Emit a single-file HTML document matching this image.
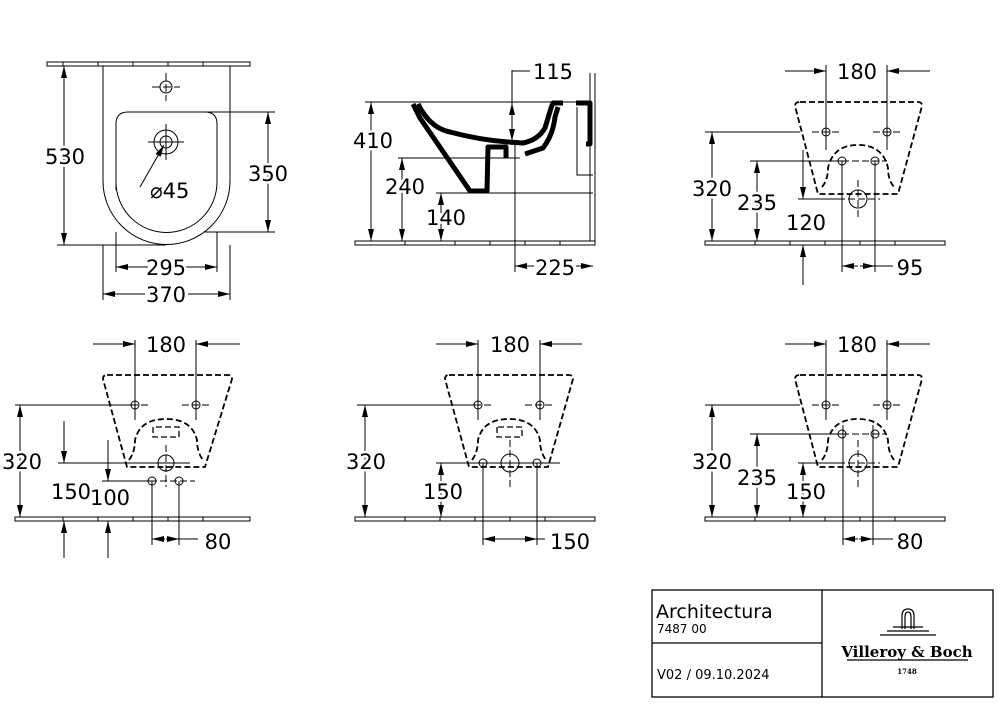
<!DOCTYPE html>
<html><head><meta charset="utf-8"><style>
html,body{margin:0;padding:0;background:#fff;}
svg{display:block;}
text{font-family:"DejaVu Sans","Liberation Sans",sans-serif;fill:#000;}
.t{font-size:21px;text-anchor:middle;stroke:#fff;stroke-width:5px;paint-order:stroke;stroke-linejoin:round;}
</style></head><body>
<svg width="1000" height="706" viewBox="0 0 1000 706" xmlns="http://www.w3.org/2000/svg">
<defs>
<marker id="a" viewBox="0 0 12 6" refX="12" refY="3" markerWidth="12" markerHeight="6" markerUnits="userSpaceOnUse" orient="auto-start-reverse"><path d="M0,0 L12,3 L0,6z" fill="#000"/></marker>
</defs>
<g stroke="#000" stroke-width="1" fill="none">
<!-- ===== VIEW 1 ===== -->
<rect x="47" y="62" width="203" height="4" fill="#fff"/>
<path d="M103,66 V181 A63.5,63.5 0 0 0 230,181 V66"/>
<path d="M116,190 V124 Q116,112 128,112 H205 Q217,112 217,124 V182 A50.5,50.5 0 0 1 116,182"/>
<circle cx="166" cy="87" r="6"/><path d="M152,87 H180 M166,73 V101" stroke-dasharray="8,3"/>
<circle cx="166" cy="142" r="12"/><circle cx="166" cy="142" r="6"/>
<path d="M148,142 H184 M166,124 V160"/>
<path d="M140,187 L164,145" marker-end="url(#a)"/>
<path d="M57,245 H166 M205,112 H275 M205,232 H275 M116,232 V272 M217,232 V272 M103,245 V300 M230,245 V300"/>
<path d="M64,66 V245" marker-start="url(#a)" marker-end="url(#a)"/>
<path d="M268,112 V232" marker-start="url(#a)" marker-end="url(#a)"/>
<path d="M116,267 H148 M184,267 H217" />
<path d="M116,267 h1" marker-start="url(#a)"/><path d="M217,267 h-1" marker-start="url(#a)"/>
<path d="M103,294 H145 M188,294 H230"/>
<path d="M103,294 h1" marker-start="url(#a)"/><path d="M230,294 h-1" marker-start="url(#a)"/>

<!-- ===== VIEW 2 ===== -->
<rect x="355" y="241" width="240" height="4" fill="#fff"/>
<path d="M590,73 V241 M595,73 V245 M365,102 H590"/>
<g stroke-width="5" stroke-linejoin="round">
<path d="M413,104 L420,118 L470,191 L487,191 L488,147 L506,147 L506,158"/>
<path d="M418,104 Q430,128 450,132 Q480,140 508,142 L523,143 Q538,140 545,128 L551,108 L553,103 L563,103"/>
<path d="M525,154 L543,148 Q553,135 555,117 L558,107"/>
<path d="M576,103 H590 L590,144 L586,144"/>
</g>
<path d="M577,107 V175 H593"/>
<path d="M398,158 H520 M436,193 H593 M515,145 V272 M512,70 V145 M512,71 H530"/>
<path d="M371,102 V241" marker-start="url(#a)" marker-end="url(#a)"/>
<path d="M402,158 V241" marker-start="url(#a)" marker-end="url(#a)"/>
<path d="M441,193 V213" marker-start="url(#a)"/><path d="M441,223 V241" marker-end="url(#a)"/>
<path d="M512,122 V103" marker-end="url(#a)"/><path d="M512,125 V141" marker-end="url(#a)"/>
<path d="M515,266 H534" marker-start="url(#a)"/><path d="M576,266 H593" marker-end="url(#a)"/>

<!-- ===== VIEW 3 ===== -->
<rect x="705" y="241" width="240" height="4" fill="#fff"/>
<g stroke-dasharray="6,3" stroke-width="1.8">
<path d="M800,102 H918 Q922,102 922,106 L898,194 H818 L795,106 Q795,102 800,102"/>
<path d="M822,187 Q828,180 828,168 Q833,145 858,145 Q883,145 888,168 Q888,180 894,187"/>
</g>
<g stroke-dasharray="7,3">
<path d="M812,132 H840 M873,132 H902 M826,122 V145 M887,122 V145 M832,161 H887 M858,180 V220 M838,199 H880"/>
</g>
<circle cx="826" cy="132" r="4"/><circle cx="887" cy="132" r="4"/>
<circle cx="842" cy="161" r="4"/><circle cx="875" cy="161" r="4"/>
<circle cx="858" cy="199" r="9"/>
<path d="M826,65 V150 M887,65 V150 M705,132 H800 M750,161 H842 M798,199 H840 M842,161 V272 M875,161 V272 M875,266 H893"/>
<path d="M785,71 H826" marker-end="url(#a)"/><path d="M930,71 H887" marker-end="url(#a)"/>
<path d="M712,132 V241" marker-start="url(#a)" marker-end="url(#a)"/>
<path d="M757,161 V241" marker-start="url(#a)" marker-end="url(#a)"/>
<path d="M803,150 V199" marker-end="url(#a)"/><path d="M803,285 V245" marker-end="url(#a)"/>
<path d="M842,266 H858" marker-start="url(#a)"/><path d="M860,266 H875" marker-end="url(#a)"/>

<!-- ===== BOTTOM ROW: shared ===== -->
<rect x="15" y="517" width="235" height="4" fill="#fff"/>
<rect x="355" y="517" width="240" height="4" fill="#fff"/>
<rect x="705" y="517" width="240" height="4" fill="#fff"/>

<!-- VIEW 4 -->
<g stroke-dasharray="6,3" stroke-width="1.8">
<path d="M107,375 H228 Q232,375 232,379 L205,467 H127 L103,379 Q103,375 107,375"/>
<path d="M129,460 Q135,452 135,440 Q140,419 166,419 Q192,419 197,440 Q197,452 203,460"/>
<path d="M153,427 V437 H179 V427 Z" stroke-width="1.3"/>
</g>
<g stroke-dasharray="7,3">
<path d="M121,405 H150 M182,405 H211 M135,392 V420 M196,392 V420 M166,445 V487 M140,481 H195"/>
</g>
<circle cx="135" cy="405" r="4"/><circle cx="196" cy="405" r="4"/>
<circle cx="166" cy="463" r="8"/><circle cx="152" cy="481" r="4"/><circle cx="179" cy="481" r="4"/>
<path d="M135,340 V420 M196,340 V420 M15,405 H135 M58,463 H190 M102,481 H152 M152,481 V545 M179,481 V545 M179,539 H198"/>
<path d="M93,344 H135" marker-end="url(#a)"/><path d="M240,344 H196" marker-end="url(#a)"/>
<path d="M20,405 V517" marker-start="url(#a)" marker-end="url(#a)"/>
<path d="M64,421 V463" marker-end="url(#a)"/><path d="M64,558 V521" marker-end="url(#a)"/>
<path d="M108,440 V481" marker-end="url(#a)"/><path d="M108,558 V521" marker-end="url(#a)"/>
<path d="M152,539 H165" marker-start="url(#a)"/><path d="M166,539 H179" marker-end="url(#a)"/>

<!-- VIEW 5 -->
<g stroke-dasharray="6,3" stroke-width="1.8">
<path d="M449,375 H569 Q573,375 573,379 L548,467 H469 L445,379 Q445,375 449,375"/>
<path d="M472,460 Q478,452 478,440 Q483,419 509,419 Q535,419 540,440 Q540,452 546,460"/>
<path d="M497,427 V437 H522 V427 Z" stroke-width="1.3"/>
</g>
<g stroke-dasharray="7,3">
<path d="M464,405 H493 M525,405 H554 M478,392 V420 M540,392 V420 M510,440 V487"/>
</g>
<circle cx="478" cy="405" r="4"/><circle cx="540" cy="405" r="4"/>
<circle cx="510" cy="463" r="9"/><circle cx="483" cy="463" r="4"/><circle cx="537" cy="463" r="4"/>
<path d="M478,340 V420 M540,340 V420 M357,405 H478 M436,463 H560 M483,463 V545 M537,463 V545 M537,539 H545"/>
<path d="M436,344 H478" marker-end="url(#a)"/><path d="M582,344 H540" marker-end="url(#a)"/>
<path d="M365,405 V517" marker-start="url(#a)" marker-end="url(#a)"/>
<path d="M441,463 V517" marker-start="url(#a)" marker-end="url(#a)"/>
<path d="M483,539 H537" marker-start="url(#a)" marker-end="url(#a)"/>

<!-- VIEW 6 -->
<g stroke-dasharray="6,3" stroke-width="1.8">
<path d="M800,375 H918 Q922,375 922,379 L898,467 H818 L795,379 Q795,375 800,375"/>
<path d="M822,460 Q828,452 828,440 Q833,419 858,419 Q883,419 888,440 Q888,452 894,460"/>
</g>
<g stroke-dasharray="7,3">
<path d="M812,405 H840 M873,405 H902 M826,392 V420 M887,392 V420 M832,434 H887 M858,440 V487 M838,463 H880"/>
</g>
<circle cx="826" cy="405" r="4"/><circle cx="887" cy="405" r="4"/>
<circle cx="842" cy="434" r="4"/><circle cx="875" cy="434" r="4"/>
<circle cx="858" cy="463" r="9"/>
<path d="M826,340 V420 M887,340 V420 M705,405 H800 M750,434 H842 M798,463 H840 M843,425 V545 M873,425 V545 M873,539 H893"/>
<path d="M785,344 H826" marker-end="url(#a)"/><path d="M930,344 H887" marker-end="url(#a)"/>
<path d="M712,405 V517" marker-start="url(#a)" marker-end="url(#a)"/>
<path d="M757,434 V517" marker-start="url(#a)" marker-end="url(#a)"/>
<path d="M803,463 V517" marker-start="url(#a)" marker-end="url(#a)"/>
<path d="M843,539 H858" marker-start="url(#a)"/><path d="M859,539 H873" marker-end="url(#a)"/>

<!-- floor ticks -->
<path d="M63,62 v4 M98,62 v4 M133,62 v4 M168,62 v4 M203,62 v4
M405,241 v4 M455,241 v4 M490,241 v4 M525,241 v4 M560,241 v4
M755,241 v4 M790,241 v4 M825,241 v4 M860,241 v4 M895,241 v4
M63,517 v4 M98,517 v4 M133,517 v4 M168,517 v4 M203,517 v4
M405,517 v4 M440,517 v4 M475,517 v4 M510,517 v4 M545,517 v4
M755,517 v4 M790,517 v4 M825,517 v4 M860,517 v4 M895,517 v4"/>

<!-- Title block -->
<rect x="652" y="590" width="341" height="107" stroke-width="1.3"/>
<path d="M822,590 V697 M652,643 H822" stroke-width="1.3"/>
<path d="M902,629 V616 Q902,609 908,609 Q914,609 914,616 V629 M905,629 V617 Q905,612 908,612 Q911,612 911,617 V629" stroke-width="1.2"/>
<path d="M893,627 H923 M887,631 H929 M880,635 H936" stroke-width="1.2"/>
<path d="M847,660 H968" stroke-width="1.2"/>
</g>

<g>
<text class="t" x="65" y="164">530</text>
<text class="t" x="268" y="181">350</text>
<text x="150" y="198" style="font-size:21px">⌀45</text>
<text class="t" x="166" y="275">295</text>
<text class="t" x="166" y="302">370</text>

<text class="t" x="553" y="79">115</text>
<text class="t" x="373" y="148">410</text>
<text class="t" x="405" y="194">240</text>
<text class="t" x="446" y="225">140</text>
<text class="t" x="555" y="275">225</text>

<text class="t" x="857" y="79">180</text>
<text class="t" x="712" y="196">320</text>
<text class="t" x="757" y="210">235</text>
<text class="t" x="806" y="230">120</text>
<text class="t" x="910" y="275">95</text>

<text class="t" x="166" y="352">180</text>
<text class="t" x="22" y="469">320</text>
<text class="t" x="71" y="499">150</text>
<text class="t" x="110" y="505">100</text>
<text class="t" x="218" y="549">80</text>

<text class="t" x="510" y="352">180</text>
<text class="t" x="366" y="469">320</text>
<text class="t" x="443" y="499">150</text>
<text class="t" x="570" y="549">150</text>

<text class="t" x="857" y="352">180</text>
<text class="t" x="712" y="469">320</text>
<text class="t" x="757" y="485">235</text>
<text class="t" x="806" y="499">150</text>
<text class="t" x="910" y="549">80</text>

<text x="656" y="618" style="font-size:19px">Architectura</text>
<text x="657" y="633" style="font-size:12px">7487 00</text>
<text x="657" y="679" style="font-size:13px">V02 / 09.10.2024</text>
<text x="907" y="657" style="font-family:'DejaVu Serif','Liberation Serif',serif;font-size:15px;text-anchor:middle;font-weight:bold">Villeroy &amp; Boch</text>
<text x="907" y="674" style="font-family:'DejaVu Serif','Liberation Serif',serif;font-size:7px;text-anchor:middle;font-weight:bold">1748</text>
</g>
</svg>
</body></html>
